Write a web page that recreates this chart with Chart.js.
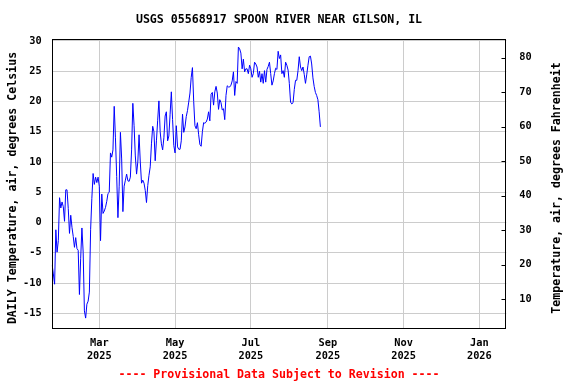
<!DOCTYPE html>
<html><head><meta charset="utf-8">
<script src="https://cdn.jsdelivr.net/npm/chart.js@4"></script>
<style>html,body{margin:0;padding:0;background:#fff}</style>
</head><body>
<canvas id="c" width="576" height="384"></canvas>
<script>
// ---- data ----
const chartTitle = 'USGS 05568917 SPOON RIVER NEAR GILSON, IL';
const footerText = '---- Provisional Data Subject to Revision ----';
const leftTitle = 'DAILY Temperature, air, degrees Celsius';
const rightTitle = 'Temperature, air, degrees Fahrenheit';
const startDate = '2025-01-22';          // date of the first daily value
const tempC = [
 -7.0,-8.5,-10.2,-1.2,-4.9,-3.0,4.1,2.4,3.4,2.6,
 0.2,5.4,5.4,2.3,-1.8,1.2,-0.8,-2.3,-4.1,-2.5,
 -4.3,-4.6,-11.9,-5.9,-0.9,-4.9,-14.6,-15.8,-13.5,-13.0,
 -11.5,-1.2,4.0,8.1,6.3,7.5,6.6,7.5,6.0,-3.0,
 4.7,1.5,1.9,2.5,3.5,4.8,5.0,11.5,10.8,12.0,
 19.2,14.0,7.6,0.8,6.0,14.9,10.5,1.8,6.0,7.0,
 8.0,6.9,6.8,7.5,12.0,19.7,16.0,11.0,8.0,10.0,
 14.5,10.0,6.5,7.0,6.5,5.3,3.3,6.1,7.8,9.2,
 13.0,15.9,15.0,10.2,13.5,16.9,20.1,15.0,13.0,12.0,
 14.0,17.6,18.3,13.5,14.3,17.9,21.6,17.0,12.7,11.5,
 16.0,12.5,12.1,12.1,13.5,17.9,14.9,15.8,17.5,18.5,
 19.9,21.4,24.0,25.6,20.0,16.0,15.5,16.5,14.5,12.9,
 12.6,15.0,16.5,16.4,16.6,17.1,18.3,16.8,21.2,21.5,
 19.4,21.6,22.5,21.4,18.7,20.3,19.8,18.6,18.8,17.0,
 21.0,22.6,22.4,22.4,22.7,23.4,24.9,21.0,23.3,23.0,
 29.0,28.7,28.0,25.4,27.0,24.9,25.4,25.4,24.6,26.0,
 25.4,24.0,24.6,26.5,26.2,25.7,24.0,25.0,23.2,24.6,
 23.0,25.1,23.2,25.3,25.8,26.5,24.6,22.7,23.4,24.6,
 25.5,25.3,28.3,27.1,27.7,24.6,25.1,24.0,26.5,26.0,
 25.2,23.0,19.9,19.6,19.8,22.0,23.5,23.5,25.1,27.4,
 25.7,25.1,25.7,24.5,23.0,24.4,26.0,27.4,27.5,26.2,
 23.9,22.5,21.5,21.0,20.3,18.3,15.8
];
const tickDates = ['2025-03-01','2025-05-01','2025-07-01','2025-09-01','2025-11-01','2026-01-01'];
const tickMonths = ['Mar','May','Jul','Sep','Nov','Jan'];
const tickYears = ['2025','2025','2025','2025','2025','2026'];
const celsiusTicks = [-15,-10,-5,0,5,10,15,20,25,30];
const fahrenheitTicks = [10,20,30,40,50,60,70,80];
const xRange = [-0.33, 365.7];           // days from startDate
const celsiusRange = [-17.6, 30.33];
const fahrenheitRange = [1.3, 85.43];

// ---- helpers ----
const DAY = 86400000;
const t0 = Date.parse(startDate + 'T00:00:00Z');
const dayOf = s => Math.round((Date.parse(s + 'T00:00:00Z') - t0) / DAY);
const tickDays = tickDates.map(dayOf);
const points = tempC.map((v, i) => ({x: i, y: v}));

const FONT = "'DejaVu Sans Mono', monospace";
Chart.defaults.font.family = FONT;
Chart.defaults.font.weight = 'bold';
Chart.defaults.color = '#000';

const framePlugin = {
  id: 'frame',
  afterDraw(chart) {
    const {ctx, chartArea: a} = chart;
    ctx.save();
    ctx.strokeStyle = '#000';
    ctx.lineWidth = 1;
    const l = Math.round(a.left) + 0.5, t = Math.round(a.top) + 0.5;
    const r = Math.round(a.right) - 0.5, b = Math.round(a.bottom) - 0.5;
    ctx.strokeRect(l, t, r - l, b - t);
    // short inward tick marks of the Fahrenheit axis
    const s2 = chart.scales.y2;
    ctx.beginPath();
    fahrenheitTicks.forEach(v => {
      const py = Math.round(s2.getPixelForValue(v)) + 0.5;
      ctx.moveTo(r - 4, py); ctx.lineTo(r, py);
    });
    ctx.stroke();
    ctx.fillStyle = '#000';
    ctx.font = 'bold 11.6px ' + FONT;
    ctx.textAlign = 'center';
    ctx.textBaseline = 'middle';
    const cy = (a.top + a.bottom) / 2 + 4;
    ctx.save(); ctx.translate(12.5, cy); ctx.rotate(-Math.PI / 2); ctx.fillText(leftTitle, 0, 0); ctx.restore();
    ctx.save(); ctx.translate(556.5, cy); ctx.rotate(-Math.PI / 2); ctx.fillText(rightTitle, 0, 0); ctx.restore();
    ctx.restore();
  }
};

new Chart(document.getElementById('c'), {
  type: 'line',
  data: {
    datasets: [{
      data: points,
      borderColor: '#0000ff',
      borderWidth: 1,
      pointRadius: 0,
      tension: 0,
      xAxisID: 'x',
      yAxisID: 'y'
    }]
  },
  options: {
    responsive: false,
    animation: false,
    devicePixelRatio: 1,
    layout: {padding: 0},
    plugins: {
      legend: {display: false},
      tooltip: {enabled: false},
      title: {
        display: true, fullSize: false, text: chartTitle, color: '#000',
        font: {family: FONT, size: 11.6, weight: 'bold', lineHeight: 1.2},
        padding: {top: 13, bottom: 12.08}
      },
      subtitle: {
        display: true, fullSize: false, position: 'bottom', text: footerText, color: '#ff0000',
        font: {family: FONT, size: 11.6, weight: 'bold', lineHeight: 1.2},
        padding: {top: 0, bottom: 2}
      }
    },
    scales: {
      x: {
        type: 'linear', position: 'bottom',
        min: xRange[0], max: xRange[1],
        afterBuildTicks: s => { s.ticks = tickDays.map(v => ({value: v})); },
        afterFit: s => { s.height = 39.08; },
        grid: {color: '#cccccc', drawTicks: false, lineWidth: 1},
        border: {display: false},
        ticks: {
          autoSkip: false, maxRotation: 0, padding: 8,
          font: {family: FONT, size: 10.3, weight: 'bold', lineHeight: 1.22},
          callback: (v, i) => [tickMonths[i], tickYears[i]]
        }
      },
      y: {
        type: 'linear', position: 'left',
        min: celsiusRange[0], max: celsiusRange[1],
        afterBuildTicks: s => { s.ticks = celsiusTicks.map(v => ({value: v})); },
        afterFit: s => { s.width = 51.7; },
        grid: {color: '#cccccc', drawTicks: false, lineWidth: 1},
        border: {display: false},
        ticks: {padding: 10, font: {family: FONT, size: 10.3, weight: 'bold'}}
      },
      y2: {
        type: 'linear', position: 'right',
        min: fahrenheitRange[0], max: fahrenheitRange[1],
        afterBuildTicks: s => { s.ticks = fahrenheitTicks.map(v => ({value: v})); },
        afterFit: s => { s.width = 69.7; },
        grid: {display: false, drawTicks: false},
        border: {display: false},
        ticks: {padding: 13, font: {family: FONT, size: 10.3, weight: 'bold'}}
      }
    }
  },
  plugins: [framePlugin]
});
</script>
</body></html>
